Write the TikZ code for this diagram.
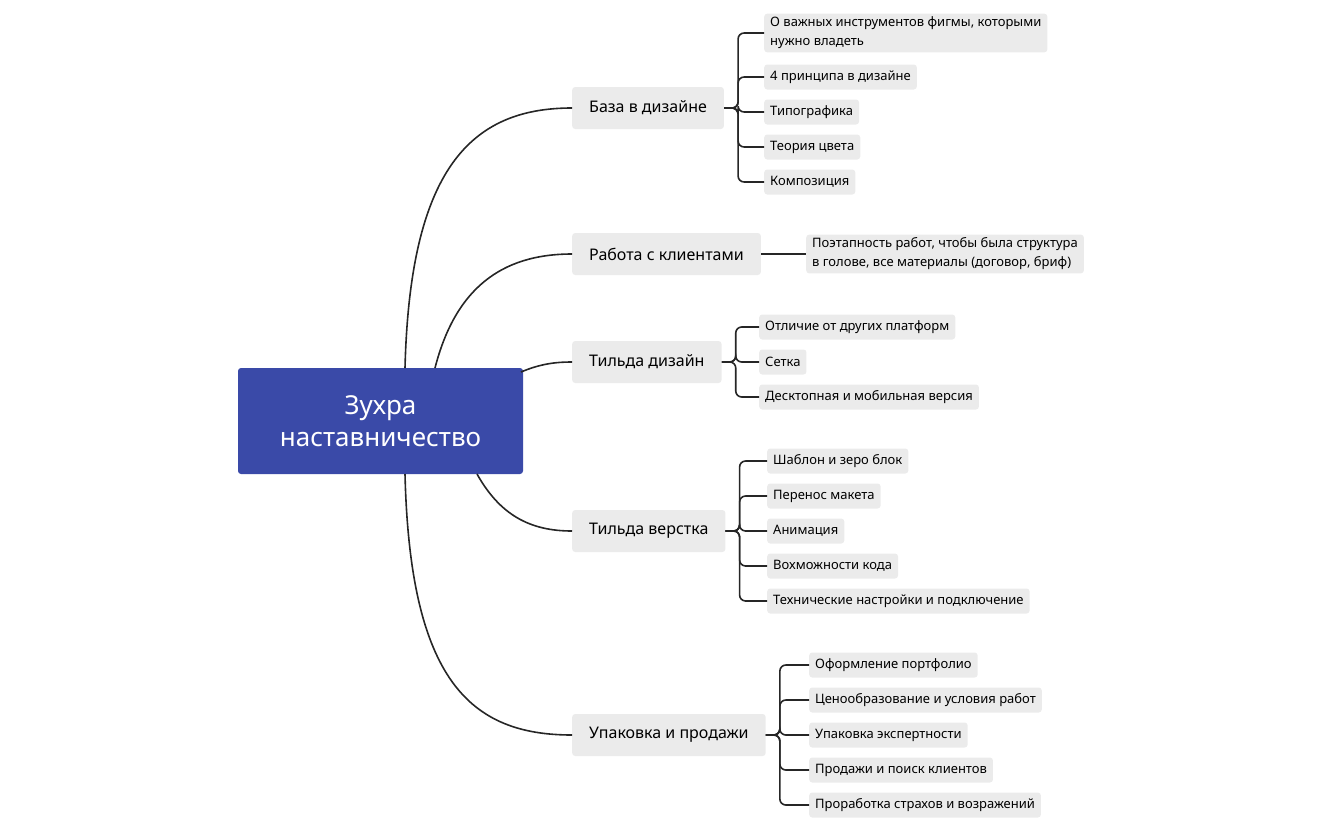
\documentclass[tikz,border=0pt]{standalone}
\usepackage{fontspec}
\setmainfont{Noto Sans}
\usetikzlibrary{positioning}
\definecolor{rootblue}{HTML}{3A4AA8}
\definecolor{boxgray}{HTML}{EBEBEB}
\tikzset{root/.style={fill=rootblue, text=white, rounded corners=3pt, minimum width=285pt,
           minimum height=106pt, align=center, font=\fontsize{26}{32}\selectfont\bfseries},
         branch/.style={fill=boxgray, rounded corners=3pt, anchor=west, minimum height=42pt,
           inner xsep=17pt, font=\fontsize{16}{19}\selectfont\bfseries},
         leaf/.style={fill=boxgray, rounded corners=3pt, anchor=west, minimum height=25pt,
           inner xsep=6pt, align=left, font=\fontsize{13}{19}\selectfont},
         conn/.style={draw=black!85, line width=1.6pt},
         bracket/.style={conn, rounded corners=6pt}}
\begin{document}
\begin{tikzpicture}[x=1pt,y=-1pt]
  \useasboundingbox (0,0) rectangle (1341,830);
  \node[root] (root) at (380.5,421) {Зухра\\наставничество};
  \node[branch] (b1) at (572,108) {База в дизайне};
  \node[branch] (b2) at (572,254) {Работа с клиентами};
  \node[branch] (b3) at (572,362) {Тильда дизайн};
  \node[branch] (b4) at (572,531) {Тильда верстка};
  \node[branch] (b5) at (572,735) {Упаковка и продажи};
  % root connectors
  \coordinate (r1) at (405,368);
  \coordinate (r2) at (435,368);
  \coordinate (r3) at (521,372);
  \coordinate (r4) at (477,474);
  \coordinate (r5) at (405,474);
  \draw[conn] (r1) .. controls (410,170) and (470,108) .. (b1.west);
  \draw[conn] (r2) .. controls (455,290) and (500,254) .. (b2.west);
  \draw[conn] (r3) .. controls (540,364) and (555,362) .. (b3.west);
  \draw[conn] (r4) .. controls (500,515) and (530,531) .. (b4.west);
  \draw[conn] (r5) .. controls (410,680) and (470,735) .. (b5.west);
  % leaves
  \node[leaf] (l11) at (764,33) {О важных инструментов фигмы, которыми\\нужно владеть};
  \foreach \t [count=\i from 2] in {4 принципа в дизайне,Типографика,Теория цвета,Композиция}
    \node[leaf] (l1\i) at (764,42+35*\i-35) {\t};
  \foreach \i in {1,...,5}
    \draw[bracket] (b1.east) -- ++(14,0) |- (l1\i.west);
  \node[leaf] (l21) at (806,254) {Поэтапность работ, чтобы была структура\\в голове, все материалы (договор, бриф)};
  \draw[conn] (b2.east) -- (l21.west);
  \foreach \t [count=\i] in {Отличие от других платформ,Сетка,Десктопная и мобильная версия} {
    \node[leaf] (l3\i) at (759,292+35*\i) {\t};
    \draw[bracket] (b3.east) -- ++(14,0) |- (l3\i.west);
  }
  \foreach \t [count=\i] in {Шаблон и зеро блок,Перенос макета,Анимация,Вохможности кода,Технические настройки и подключение} {
    \node[leaf] (l4\i) at (767,426+35*\i) {\t};
    \draw[bracket] (b4.east) -- ++(14,0) |- (l4\i.west);
  }
  \foreach \t [count=\i] in {Оформление портфолио,Ценообразование и условия работ,Упаковка экспертности,Продажи и поиск клиентов,Проработка страхов и возражений} {
    \node[leaf] (l5\i) at (809,630+35*\i) {\t};
    \draw[bracket] (b5.east) -- ++(14,0) |- (l5\i.west);
  }
\end{tikzpicture}
\end{document}
